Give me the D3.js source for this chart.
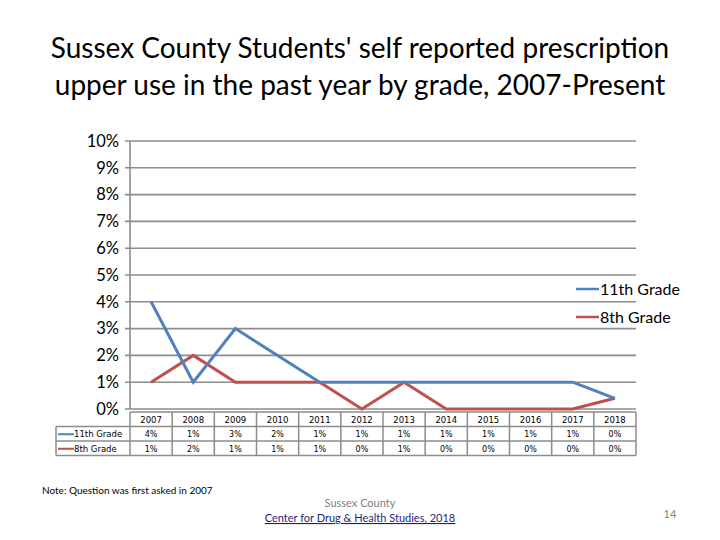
<!DOCTYPE html>
<html>
<head>
<meta charset="utf-8">
<script src="https://cdn.jsdelivr.net/npm/d3@7"></script>
<style>
  body { margin: 0; background: #fff; }
  svg { display: block; }
</style>
</head>
<body>
<div id="chart"></div>
<script>
// data
const years = ["2007","2008","2009","2010","2011","2012","2013","2014","2015","2016","2017","2018"];
const grade11 = [4, 1, 3, 2, 1, 1, 1, 1, 1, 1, 1, 0.4];
const grade8 = [1, 2, 1, 1, 1, 0, 1, 0, 0, 0, 0, 0.4];
const grade11Labels = ["4%","1%","3%","2%","1%","1%","1%","1%","1%","1%","1%","0%"];
const grade8Labels = ["1%","2%","1%","1%","1%","0%","1%","0%","0%","0%","0%","0%"];
const yTicks = [0,1,2,3,4,5,6,7,8,9,10];

const W = 720, H = 540;
let margin = {top: 141, right: 84, bottom: 131, left: 130},
    width = W - margin.left - margin.right,
    height = H - margin.top - margin.bottom;

const font = "Lato, 'Open Sans', sans-serif";
const grid = "#8c8c8c";

const svg = d3.select("#chart")
  .append("svg")
    .attr("width", W)
    .attr("height", H);

// title
svg.append("text")
    .attr("x", 360).attr("y", 58)
    .attr("text-anchor", "middle")
    .attr("font-family", font).attr("font-size", 28)
    .text("Sussex County Students' self reported prescription");
svg.append("text")
    .attr("x", 360).attr("y", 95)
    .attr("text-anchor", "middle")
    .attr("font-family", font).attr("font-size", 28)
    .text("upper use in the past year by grade, 2007-Present");

const g = svg.append("g")
    .attr("transform", `translate(${margin.left},${margin.top})`);

let x = d3.scaleBand()
    .domain(years)
    .range([0, width]);

let y = d3.scaleLinear()
    .domain([0, 10])
    .range([height, 0]);

// gridlines
g.append("g")
  .selectAll("line")
  .data(yTicks)
  .join("line")
    .attr("x1", -5).attr("x2", width)
    .attr("y1", d => y(d)).attr("y2", d => y(d))
    .attr("stroke", grid).attr("stroke-width", 1.6);

g.append("line")
    .attr("x1", 0).attr("x2", 0)
    .attr("y1", 0).attr("y2", height)
    .attr("stroke", grid).attr("stroke-width", 1.6);

// y labels
g.append("g")
  .selectAll("text")
  .data(yTicks)
  .join("text")
    .attr("x", -11)
    .attr("y", d => y(d))
    .attr("dy", "0.35em")
    .attr("text-anchor", "end")
    .attr("font-family", font).attr("font-size", 16.5)
    .text(d => d + "%");

const series = [
  {name: "11th Grade", values: grade11, labels: grade11Labels, color: "#4F81BD"},
  {name: "8th Grade", values: grade8, labels: grade8Labels, color: "#C0504D"}
];

const line = d3.line()
    .x((d, i) => x(years[i]) + x.bandwidth() / 2)
    .y(d => y(d));

// draw red first so blue sits on top
g.append("g")
  .selectAll("path")
  .data(series.slice().reverse())
  .join("path")
    .attr("d", s => line(s.values))
    .attr("fill", "none")
    .attr("stroke", d => d.color)
    .attr("stroke-width", 3)
    .attr("stroke-linejoin", "miter");

// legend
const legend = svg.append("g")
  .selectAll("g")
  .data(series)
  .join("g")
    .attr("transform", (d, i) => `translate(576,${289 + i * 28})`);

legend.append("rect")
    .attr("x", -2).attr("y", -9).attr("width", 120).attr("height", 18)
    .attr("fill", "#fff");
legend.append("line")
    .attr("x1", 0).attr("x2", 23)
    .attr("stroke", d => d.color).attr("stroke-width", 2.5);
legend.append("text")
    .attr("x", 24).attr("dy", "0.35em")
    .attr("font-family", font).attr("font-size", 16)
    .text(d => d.name);

// data table under the axis
const tblFont = "'DejaVu Sans', sans-serif";
const rowH = 14.5;
const tTop = height + 3;
const tbl = g.append("g").attr("transform", `translate(0,${tTop})`);

tbl.selectAll(".hdr")
  .data(years)
  .join("text")
    .attr("x", d => x(d) + x.bandwidth() / 2)
    .attr("y", rowH / 2 + 1)
    .attr("dy", "0.35em")
    .attr("text-anchor", "middle")
    .attr("font-family", tblFont).attr("font-size", 8.5)
    .text(d => d);

series.forEach((s, r) => {
  const ry = rowH * (r + 1) + rowH / 2 + 0.5;
  tbl.selectAll(".v" + r)
    .data(s.labels)
    .join("text")
      .attr("x", (d, i) => x(years[i]) + x.bandwidth() / 2)
      .attr("y", ry)
      .attr("dy", "0.35em")
      .attr("text-anchor", "middle")
      .attr("font-family", tblFont).attr("font-size", 8)
      .text(d => d);
  tbl.append("line")
      .attr("x1", -72).attr("x2", -56)
      .attr("y1", ry).attr("y2", ry)
      .attr("stroke", s.color).attr("stroke-width", 2);
  tbl.append("text")
      .attr("x", -56).attr("y", ry)
      .attr("dy", "0.35em")
      .attr("font-family", tblFont).attr("font-size", 8.5)
      .text(s.name);
});

// table borders
const tb = tbl.append("g")
    .attr("stroke", grid).attr("stroke-width", 1.5).attr("fill", "none");
tb.selectAll(".vl")
  .data(years.concat(["end"]))
  .join("line")
    .attr("x1", d => d === "end" ? width : x(d))
    .attr("x2", d => d === "end" ? width : x(d))
    .attr("y1", 0).attr("y2", rowH * 3);
[0, 1, 2, 3].forEach(r => {
  tb.append("line")
      .attr("x1", r === 0 ? 0 : -74).attr("x2", width)
      .attr("y1", rowH * r).attr("y2", rowH * r);
});
tb.append("line")
    .attr("x1", -74).attr("x2", -74)
    .attr("y1", rowH).attr("y2", rowH * 3);

// footer
svg.append("text")
    .attr("x", 42).attr("y", 494)
    .attr("font-family", font).attr("font-size", 10)
    .text("Note: Question was first asked in 2007");
svg.append("text")
    .attr("x", 360).attr("y", 507)
    .attr("text-anchor", "middle")
    .attr("font-family", font).attr("font-size", 11)
    .attr("fill", "#7f7f7f")
    .text("Sussex County");
svg.append("text")
    .attr("x", 360).attr("y", 522)
    .attr("text-anchor", "middle")
    .attr("font-family", font).attr("font-size", 11)
    .attr("fill", "#1f1f7a")
    .attr("text-decoration", "underline")
    .text("Center for Drug & Health Studies, 2018");
svg.append("text")
    .attr("x", 670).attr("y", 518)
    .attr("text-anchor", "middle")
    .attr("font-family", font).attr("font-size", 11)
    .attr("fill", "#7f7f7f")
    .text("14");
</script>
</body>
</html>
